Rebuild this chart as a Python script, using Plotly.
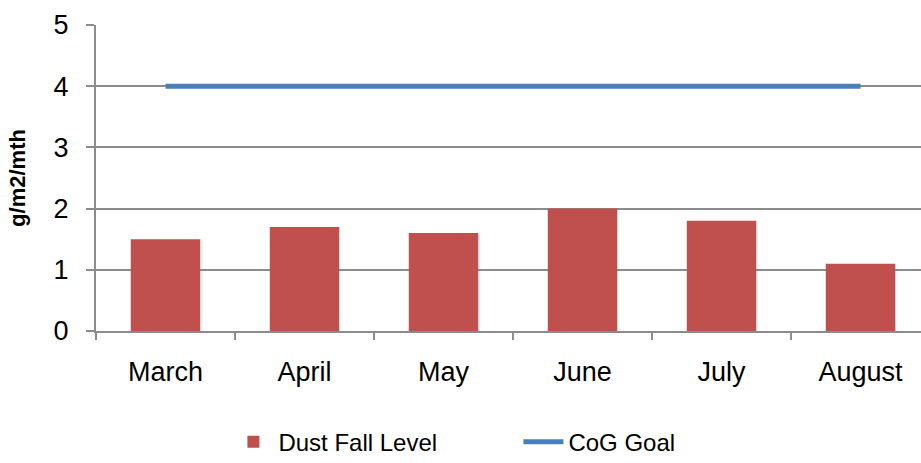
import plotly.graph_objects as go

months = ["March", "April", "May", "June", "July", "August"]
dust_fall = [1.5, 1.7, 1.6, 2.0, 1.8, 1.1]
cog_goal = [4, 4, 4, 4, 4, 4]

grid = "#8c8c8c"

fig = go.Figure()
fig.add_trace(go.Bar(x=months, y=dust_fall, name="Dust Fall Level",
                     marker=dict(color="#C0504D", line=dict(width=0)), width=0.5))
fig.add_trace(go.Scatter(x=months, y=cog_goal, name="CoG Goal", mode="lines",
                         line=dict(color="#4A7EBB", width=5)))

fig.update_layout(
    width=921, height=463,
    margin=dict(l=96, r=0, t=25, b=132),
    plot_bgcolor="white", paper_bgcolor="white",
    font=dict(family="Liberation Sans, Arial, sans-serif", size=27, color="black"),
    showlegend=True,
    legend=dict(orientation="h", xref="container", yref="container",
                x=0.248, xanchor="left", y=0.045, yanchor="middle",
                entrywidth=235, entrywidthmode="pixels",
                font=dict(size=24), itemwidth=40),
)
fig.update_xaxes(
    range=[-0.5, 5.435], showgrid=False, showline=True, linecolor=grid, linewidth=2,
    ticks="outside", tickson="boundaries", ticklen=7, tickcolor=grid, tickwidth=2,
    ticklabelstandoff=16,
)
fig.update_yaxes(
    range=[0, 5], dtick=1, showgrid=True, gridcolor=grid, gridwidth=2,
    showline=True, linecolor=grid, linewidth=2, zeroline=False,
    ticks="outside", ticklen=8, tickcolor=grid, tickwidth=2, ticklabelstandoff=12,
    title=dict(text="<b>g/m2/mth</b>", font=dict(size=22), standoff=22),
)

fig.write_html("out.html", config={"displayModeBar": False},
               post_script="document.body.style.margin='0';")
